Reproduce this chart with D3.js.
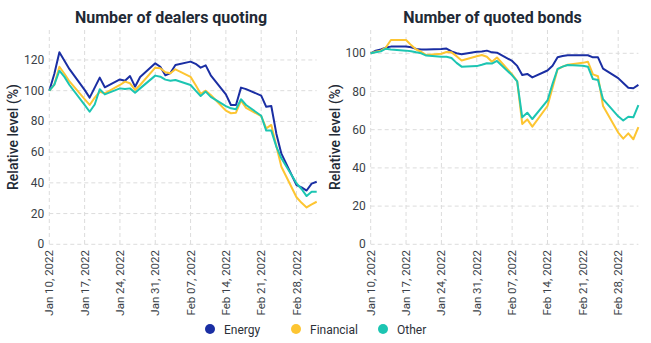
<!DOCTYPE html>
<html>
<head>
<meta charset="utf-8">
<script src="https://cdn.jsdelivr.net/npm/d3@7"></script>
<style>
  body { margin: 0; background: #fff; }
  svg { display: block; font-family: Roboto, "Noto Sans", sans-serif; }
</style>
</head>
<body>
<svg width="651" height="343"></svg>
<script>
// trading days, Jan 10 - Mar 4 2022
var dates = [
  "2022-01-10","2022-01-11","2022-01-12","2022-01-13","2022-01-14",
  "2022-01-17","2022-01-18","2022-01-19","2022-01-20","2022-01-21",
  "2022-01-24","2022-01-25","2022-01-26","2022-01-27","2022-01-28",
  "2022-01-31","2022-02-01","2022-02-02","2022-02-03","2022-02-04",
  "2022-02-07","2022-02-08","2022-02-09","2022-02-10","2022-02-11",
  "2022-02-14","2022-02-15","2022-02-16","2022-02-17","2022-02-18",
  "2022-02-21","2022-02-22","2022-02-23","2022-02-24","2022-02-25",
  "2022-02-28","2022-03-01","2022-03-02","2022-03-03","2022-03-04"
];

var tickDates = ["2022-01-10","2022-01-17","2022-01-24","2022-01-31",
                 "2022-02-07","2022-02-14","2022-02-21","2022-02-28"];

var seriesNames = ["Energy", "Financial", "Other"];
var seriesColors = ["#1a2ea3", "#fdc532", "#1cc5b2"];

// number of dealers quoting
var dealersEnergy = [100,111,125,119.5,114, 100.5,95.5,102,108.5,102.2,
  107.3,106.5,109.5,102.6,108.9, 117.8,115.6,110,111.5,116.7,
  118.9,117.5,115,116.5,110, 97.6,90.7,90.7,102,101,
  96.8,89.5,90,72,59, 38.5,37,35,39.5,40.7];
var dealersFinancial = [100,104,115.6,111,106, 94.5,90.7,95.5,99.3,98.3,
  103.7,105.9,104.8,100.5,103.7, 115,114.6,112,111.3,113.9,
  109,103.7,98,100,97.2, 87,85.3,85.7,93.5,88.8,
  83.4,75.5,77.7,64,50.5, 30.6,27,24,26,27.7];
var dealersOther = [100,104,113,109,103.7, 90.7,86.3,91,100.9,97.6,
  101.5,101.1,101.5,98.7,101.5, 109.8,109.1,107.2,106.5,107,
  103.7,100,96.5,99.4,96, 90,88.5,87.9,94.4,90.7,
  83.7,74,74,63.6,56, 39.7,36,31.4,34.2,34.2];

// number of quoted bonds
var bondsEnergy = [100,101.4,102,103,103.5, 103.5,103.2,102.3,102,102,
  102.3,102.5,101,100,99.5, 100.8,101,101.4,100.5,100.3,
  96,93.4,88.6,89.2,87.4, 91,93.5,97.9,98.6,99,
  99,99,97.9,97.9,92, 87,84.5,82,81.7,83.5];
var bondsFinancial = [100,100.8,101.4,103,107, 107,104.3,102,100.8,99.1,
  99.8,100.7,100.5,98.5,96.2, 98.5,99.1,98.2,95.6,97.8,
  89,85.5,63,65.4,61.6, 72.4,82,91.6,93,94,
  95,95.6,89,88,72.4, 58.5,55.3,58.1,55,61.3];
var bondsOther = [100,100.5,101,102.4,102, 101.4,101.1,100.5,100,98.8,
  98.2,98.2,97.5,95,93, 93.3,94,94.8,94.6,96,
  88.5,85.3,66.5,68.9,65.6, 75.3,84,91.8,93,93.9,
  93.5,93,86.5,86,76, 67,64.8,66.8,66.5,72.9];

var parse = d3.utcParse("%Y-%m-%d");
var fmt = d3.utcFormat("%b %d, %Y");

var svg = d3.select("svg");

function drawPanel(opt) {
  var x = d3.scaleUtc()
    .domain([parse(dates[0]), parse(dates[dates.length - 1])])
    .range([opt.left, opt.right]);
  var y = d3.scaleLinear().domain([0, opt.ymax]).range([244.3, 30]);

  var g = svg.append("g");

  // grid
  g.selectAll("line.hg").data(d3.range(0, opt.ymax, 20)).enter()
    .append("line")
    .attr("x1", opt.left).attr("x2", opt.right)
    .attr("y1", function(d) { return y(d); }).attr("y2", function(d) { return y(d); })
    .attr("stroke", "#dcdcdc").attr("stroke-dasharray", "4,3").attr("stroke-width", 1);
  g.selectAll("line.vg").data(tickDates).enter()
    .append("line")
    .attr("x1", function(d) { return x(parse(d)); }).attr("x2", function(d) { return x(parse(d)); })
    .attr("y1", 30).attr("y2", 244.3)
    .attr("stroke", "#dcdcdc").attr("stroke-dasharray", "4,3").attr("stroke-width", 1);

  // y tick labels
  g.selectAll("text.yt").data(d3.range(0, opt.ymax, 20)).enter()
    .append("text")
    .attr("x", opt.left - 5).attr("y", function(d) { return y(d) + 4; })
    .attr("text-anchor", "end").attr("font-size", 12).attr("fill", "#3a3f47")
    .text(function(d) { return d; });

  // x tick labels
  g.selectAll("text.xt").data(tickDates).enter()
    .append("text")
    .attr("transform", function(d) { return "translate(" + (x(parse(d)) + 4) + ",250) rotate(-90)"; })
    .attr("text-anchor", "end").attr("font-size", 11.5).attr("fill", "#3a3f47")
    .text(function(d) { return fmt(parse(d)); });

  // y title
  g.append("text")
    .attr("transform", "translate(" + (opt.left - 31) + ",137) rotate(-90)")
    .attr("text-anchor", "middle").attr("font-size", 14).attr("font-weight", 500)
    .attr("fill", "#1f2a36")
    .text("Relative level (%)");

  // title
  g.append("text")
    .attr("x", (opt.left + opt.right) / 2 - 12).attr("y", 23)
    .attr("text-anchor", "middle").attr("font-size", 16).attr("font-weight", 700)
    .attr("fill", "#1f2a36")
    .text(opt.title);

  var line = d3.line()
    .x(function(d, i) { return x(parse(dates[i])); })
    .y(function(d) { return y(d); });

  opt.series.forEach(function(s, k) {
    g.append("path")
      .attr("d", line(s))
      .attr("fill", "none")
      .attr("stroke", seriesColors[k])
      .attr("stroke-width", 2)
      .attr("stroke-linejoin", "round");
  });
}

drawPanel({ left: 49.3, right: 316.7, ymax: 139.5, title: "Number of dealers quoting",
  series: [dealersEnergy, dealersFinancial, dealersOther] });
drawPanel({ left: 370.7, right: 638.4, ymax: 112.2, title: "Number of quoted bonds",
  series: [bondsEnergy, bondsFinancial, bondsOther] });

// legend
var legX = [210, 296, 383];
var leg = svg.append("g");
seriesNames.forEach(function(n, i) {
  leg.append("circle").attr("cx", legX[i]).attr("cy", 329).attr("r", 5).attr("fill", seriesColors[i]);
  leg.append("text").attr("x", legX[i] + 14).attr("y", 333.5)
    .attr("font-size", 12).attr("fill", "#2b3038").text(n);
});
</script>
</body>
</html>
